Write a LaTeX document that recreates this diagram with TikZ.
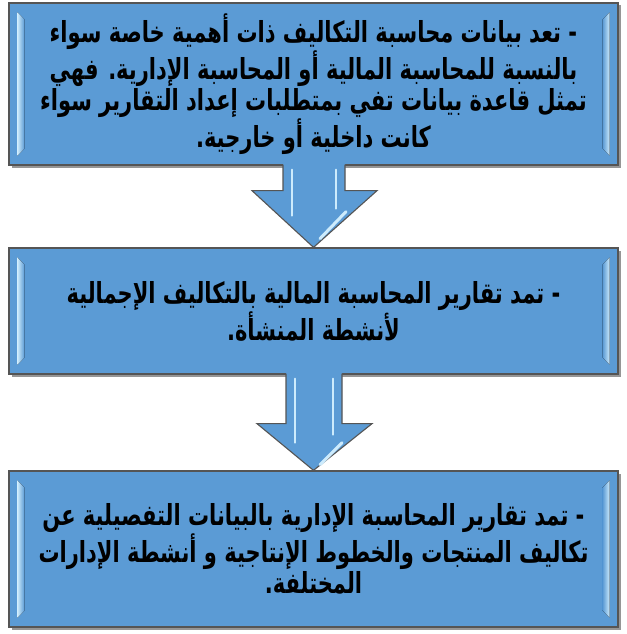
\documentclass[tikz,border=0pt]{standalone}
\usepackage{fontspec}
\usepackage{graphicx}
\newfontfamily\arabicfont[Script=Arabic]{DejaVu Sans}
\TeXXeTstate=1
\usetikzlibrary{calc,shadows}
\definecolor{boxblue}{RGB}{91,155,213}
\definecolor{hl}{RGB}{205,235,252}
\definecolor{edgegray}{RGB}{85,85,85}
\definecolor{shadowgray}{RGB}{150,150,150}
\newcommand\rlline[1]{\scalebox{1}[1.38]{\beginR #1\endR}}
\tikzset{
  box/.style={draw=edgegray, line width=1.3pt, fill=boxblue, inner sep=0pt,
    minimum width=609pt, text=black, align=center,
    font=\arabicfont\bfseries\fontsize{21}{31.5}\selectfont,
    drop shadow={shadow xshift=2.5pt, shadow yshift=-2.5pt, fill=shadowgray, opacity=1}},
  arrowbody/.style={fill=boxblue, draw=edgegray, line width=1.1pt, line join=miter},
  hlleft/.style={left color=hl, right color=boxblue},
  hlright/.style={left color=boxblue, right color=hl},
  hlline/.style={draw=hl, line width=2.2pt, line cap=round},
}
\begin{document}
\begin{tikzpicture}[x=1pt,y=-1pt]
\useasboundingbox (0,0) rectangle (626,634);
\fill[white] (0,0) rectangle (626,634);

% boxes
\node[box, minimum height=162pt] (b1) at (313.5,84)
 {\rlline{- تعد بيانات محاسبة التكاليف ذات أهمية خاصة سواء}\\
  \rlline{بالنسبة للمحاسبة المالية أو المحاسبة الإدارية. فهي}\\
  \rlline{تمثل قاعدة بيانات تفي بمتطلبات إعداد التقارير سواء}\\
  \rlline{كانت داخلية أو خارجية.}};
\node[box, minimum height=126pt] (b2) at (313.5,311)
 {\rlline{- تمد تقارير المحاسبة المالية بالتكاليف الإجمالية}\\
  \rlline{لأنشطة المنشأة.}};
\node[box, minimum height=156pt] (b3) at (313.5,549)
 {\rlline{- تمد تقارير المحاسبة الإدارية بالبيانات التفصيلية عن}\\
  \rlline{تكاليف المنتجات والخطوط الإنتاجية و أنشطة الإدارات}\\
  \rlline{المختلفة.}};

% bevel highlights on boxes
\foreach \b in {b1,b2,b3}{
  \fill[hlleft] ($(\b.north west)+(9,10)$) -- ($(\b.north west)+(16,17)$)
     -- ($(\b.south west)+(16,-17)$) -- ($(\b.south west)+(9,-10)$) -- cycle;
  \fill[hlright] ($(\b.north east)+(-16,17)$) -- ($(\b.north east)+(-9,10)$)
     -- ($(\b.south east)+(-9,-10)$) -- ($(\b.south east)+(-16,-17)$) -- cycle;
  \draw[edgegray, line width=1.3pt] (\b.north west) rectangle (\b.south east);
}

% arrow 1
\coordinate (a1top) at ($(b1.south)+(0.5,-2)$);
\coordinate (a1tip) at (b2.north);
\fill[arrowbody, draw=none] ($(a1top)+(-31,0)$) -- ($(a1top)+(-31,27)$) -- ($(a1top)+(-62,27)$)
  -- (a1tip) -- ($(a1top)+(63,27)$) -- ($(a1top)+(31,27)$) -- ($(a1top)+(31,0)$) -- cycle;
\draw[arrowbody, fill=none] ($(a1top)+(-31,1)$) -- ($(a1top)+(-31,27)$) -- ($(a1top)+(-62,27)$)
  -- (a1tip) -- ($(a1top)+(63,27)$) -- ($(a1top)+(31,27)$) -- ($(a1top)+(31,1)$);
\draw[hlline] ($(a1top)+(-22,6)$) -- ($(a1top)+(-22,52)$);
\draw[hlline] ($(a1top)+(22,6)$) -- ($(a1top)+(22,45)$);
\draw[hlline, line width=3pt] ($(a1top)+(32,48)$) -- ($(a1top)+(6,75)$);

% arrow 2
\coordinate (a2top) at ($(b2.south)+(0.5,-2)$);
\coordinate (a2tip) at (b3.north);
\fill[arrowbody, draw=none] ($(a2top)+(-28,0)$) -- ($(a2top)+(-28,51)$) -- ($(a2top)+(-57,51)$)
  -- (a2tip) -- ($(a2top)+(58,51)$) -- ($(a2top)+(28,51)$) -- ($(a2top)+(28,0)$) -- cycle;
\draw[arrowbody, fill=none] ($(a2top)+(-28,1)$) -- ($(a2top)+(-28,51)$) -- ($(a2top)+(-57,51)$)
  -- (a2tip) -- ($(a2top)+(58,51)$) -- ($(a2top)+(28,51)$) -- ($(a2top)+(28,1)$);
\draw[hlline] ($(a2top)+(-19,6)$) -- ($(a2top)+(-19,70)$);
\draw[hlline] ($(a2top)+(19,6)$) -- ($(a2top)+(19,62)$);
\draw[hlline, line width=3pt] ($(a2top)+(28,70)$) -- ($(a2top)+(6,92)$);
\end{tikzpicture}
\end{document}
